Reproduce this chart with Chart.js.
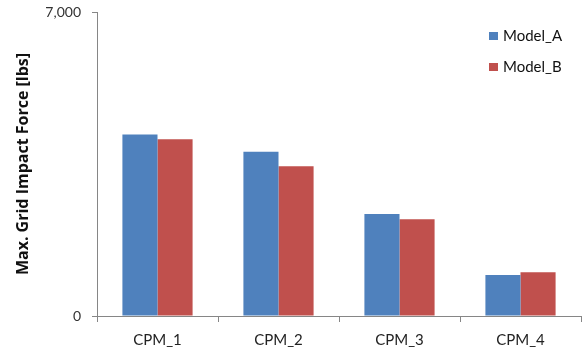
<!DOCTYPE html>
<html>
<head>
<meta charset="utf-8">
<script src="https://cdn.jsdelivr.net/npm/chart.js@4/dist/chart.umd.min.js"></script>
<style>
  html, body { margin: 0; padding: 0; background: #fff; }
  #wrap { width: 584px; height: 351px; }
</style>
</head>
<body>
<div id="wrap"><canvas id="myChart" width="584" height="351"></canvas></div>
<script>
'use strict';

let categories = ['CPM_1', 'CPM_2', 'CPM_3', 'CPM_4'];
let modelA = [4180, 3780, 2350, 945];
let modelB = [4070, 3450, 2225, 1005];
let yTicks = [0, 7000];

// legend drawn inside the plot, top right like the original
let insideLegend = {
    id: 'insideLegend',
    afterDraw(chart) {
        let ctx = chart.ctx;
        let area = chart.chartArea;
        let sets = chart.data.datasets;
        ctx.save();
        ctx.font = '15px Lato, "Open Sans", sans-serif';
        ctx.textBaseline = 'middle';
        for (let i = 0; i < sets.length; i++) {
            let y = area.top + 24 + i * 31;
            ctx.fillStyle = sets[i].backgroundColor;
            ctx.fillRect(area.right - 92, y - 4, 9, 8);
            ctx.fillStyle = '#111';
            ctx.fillText(sets[i].label, area.right - 78, y);
        }
        ctx.restore();
    }
};

let ctx = document.getElementById('myChart').getContext('2d');
let myChart = new Chart(ctx, {
    type: 'bar',
    data: {
        labels: categories,
        datasets: [{
            label: 'Model_A',
            data: modelA,
            backgroundColor: '#4F81BD'
        }, {
            label: 'Model_B',
            data: modelB,
            backgroundColor: '#C0504D'
        }]
    },
    plugins: [insideLegend],
    options: {
        responsive: false,
        animation: false,
        layout: { padding: { top: 0, right: 3, left: 0, bottom: 0 } },
        datasets: {
            bar: { categoryPercentage: 0.58, barPercentage: 1 }
        },
        plugins: {
            legend: { display: false },
            tooltip: { enabled: false }
        },
        scales: {
            x: {
                grid: { offset: true, drawOnChartArea: false, tickLength: 6, color: '#868686' },
                border: { color: '#868686', width: 1 },
                ticks: { color: '#222', padding: 9, font: { family: 'Lato, "Open Sans", sans-serif', size: 15 } },
                afterFit(scale) { scale.height = 35; }
            },
            y: {
                min: 0,
                max: 7000,
                afterBuildTicks(scale) {
                    scale.ticks = yTicks.map(v => ({ value: v }));
                },
                grid: { drawOnChartArea: false, tickLength: 5, color: '#868686' },
                border: { color: '#868686', width: 1 },
                ticks: { color: '#333', padding: 11, font: { family: 'Lato, "Open Sans", sans-serif', size: 14 } },
                title: {
                    display: true,
                    text: 'Max. Grid Impact Force [lbs]',
                    color: '#111',
                    font: { family: '"Open Sans", sans-serif', size: 16, weight: 'bold' },
                    padding: { top: 14, bottom: 0 }
                },
                afterFit(scale) {
                    scale.width = 97;
                    scale.paddingTop = 12;
                    scale.paddingBottom = 0;
                }
            }
        }
    }
});
</script>
</body>
</html>
